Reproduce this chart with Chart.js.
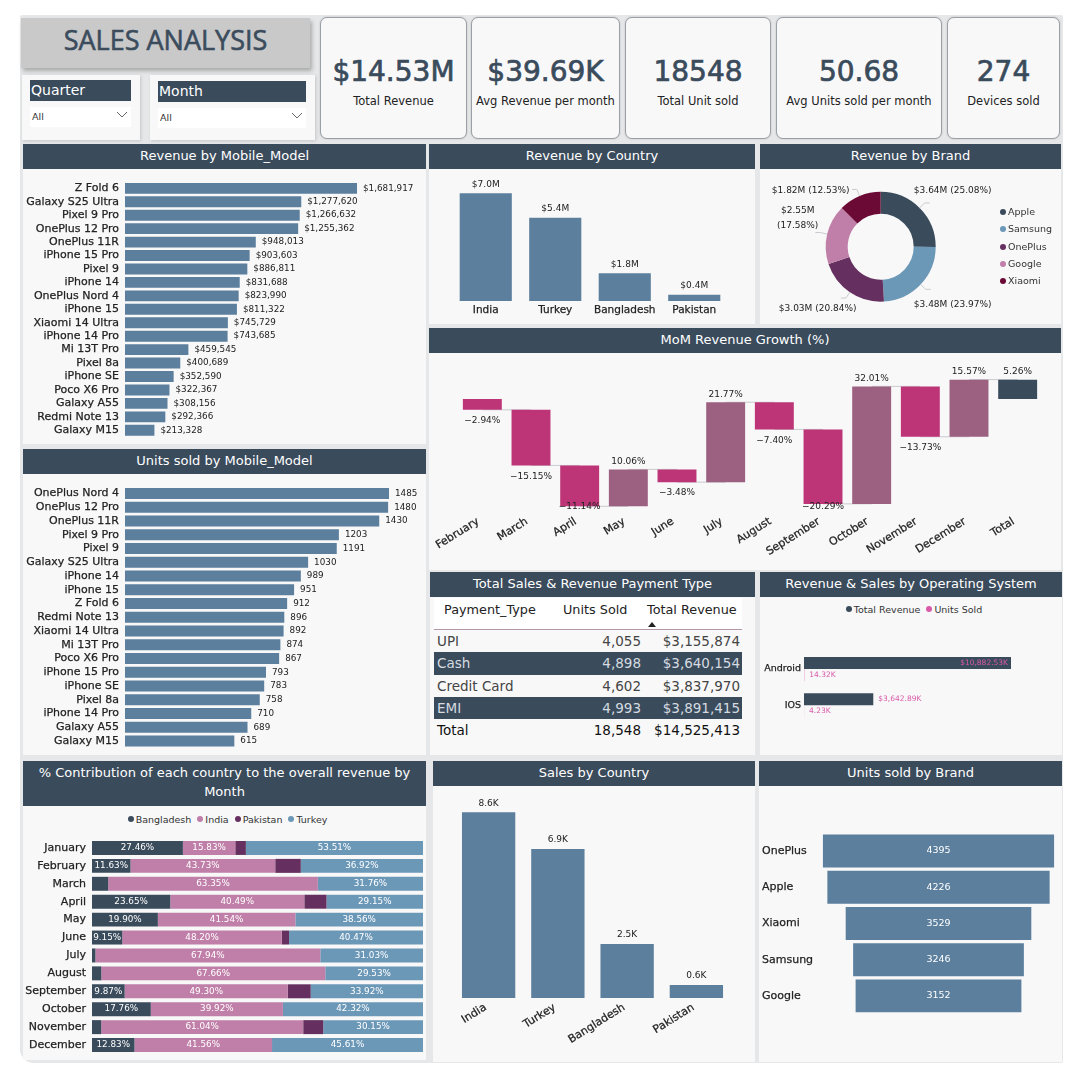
<!DOCTYPE html>
<html>
<head>
<meta charset="utf-8">
<title>Sales Analysis</title>
<script src="https://cdn.jsdelivr.net/npm/chart.js@4/dist/chart.umd.min.js"></script>
<style>
  html, body { margin: 0; padding: 0; background: #fff; }
  body { width: 1080px; height: 1080px; position: relative; overflow: hidden; font-family: "DejaVu Sans", sans-serif; color: #222; }
  .abs { position: absolute; box-sizing: border-box; }
  #board { left: 20px; top: 15px; width: 1043px; height: 1048px; background: #e5e7e9; border-radius: 2px 2px 2px 14px; }
  .body { background: #f8f8f9; }
  .head { background: #3a4b5c; color: #fff; font-size: 13px; text-align: center; display: flex; align-items: center; justify-content: center; line-height: 19px; padding-bottom: 3px; }
  .card { background: #f8f8f9; border: 1px solid #9aa0a6; border-radius: 7px; text-align: center; box-shadow: 0 0 2px #bbb; }
  .card b { display: block; font-weight: 400; font-size: 28px; color: #3a4b5c; margin-top: 37px; line-height: 34px; -webkit-text-stroke: .7px #3a4b5c; }
  .card span { display: block; font-size: 11.5px; margin-top: 5px; color: #222; }
  .legend { display: flex; justify-content: center; align-items: center; font-size: 9.5px; color: #333; white-space: nowrap; }
  .legend i { width: 6px; height: 6px; border-radius: 50%; display: inline-block; margin: 0 2px 0 6px; }
  .tr { font-size: 13.5px; height: 22.3px; line-height: 22.3px; }
  .tc { position: absolute; top: 0; white-space: nowrap; }
  canvas { position: absolute; display: block; }
</style>
</head>
<body>
<div class="abs" id="board"></div>
<div class="abs" style="left:21px;top:18px;width:289px;height:50px;background:#c9c9c9;box-shadow:2px 3px 4px #aaa;color:#3b4c5d;font:27px/44px 'Open Sans',sans-serif;text-align:center;-webkit-text-stroke:.6px #3b4c5d;">SALES ANALYSIS</div>
<script>
// Reference values
const modelNames = ['Z Fold 6', 'Galaxy S25 Ultra', 'Pixel 9 Pro', 'OnePlus 12 Pro', 'OnePlus 11R', 'iPhone 15 Pro', 'Pixel 9', 'iPhone 14', 'OnePlus Nord 4', 'iPhone 15', 'Xiaomi 14 Ultra', 'iPhone 14 Pro', 'Mi 13T Pro', 'Pixel 8a', 'iPhone SE', 'Poco X6 Pro', 'Galaxy A55', 'Redmi Note 13', 'Galaxy M15'];
const modelRevenue = [1681917, 1277620, 1266632, 1255362, 948013, 903603, 886811, 831688, 823990, 811322, 745729, 743685, 459545, 400689, 352590, 322367, 308156, 292366, 213328];

const unitModelNames = ['OnePlus Nord 4', 'OnePlus 12 Pro', 'OnePlus 11R', 'Pixel 9 Pro', 'Pixel 9', 'Galaxy S25 Ultra', 'iPhone 14', 'iPhone 15', 'Z Fold 6', 'Redmi Note 13', 'Xiaomi 14 Ultra', 'Mi 13T Pro', 'Poco X6 Pro', 'iPhone 15 Pro', 'iPhone SE', 'Pixel 8a', 'iPhone 14 Pro', 'Galaxy A55', 'Galaxy M15'];
const modelUnits = [1485, 1480, 1430, 1203, 1191, 1030, 989, 951, 912, 896, 892, 874, 867, 793, 783, 758, 710, 689, 615];

const countries = ['India', 'Turkey', 'Bangladesh', 'Pakistan'];
const countryRevenueM = [7.0, 5.4, 1.8, 0.4];
const countrySalesK = [8.6, 6.9, 2.5, 0.6];

const brands = ['Apple', 'Samsung', 'OnePlus', 'Google', 'Xiaomi'];
const brandShare = [25.08, 23.97, 20.84, 17.58, 12.53];
const brandLabels = [['$3.64M (25.08%)'], ['$3.48M (23.97%)'], ['$3.03M (20.84%)'], ['$2.55M', '(17.58%)'], ['$1.82M (12.53%)']];

const momMonths = ['February', 'March', 'April', 'May', 'June', 'July', 'August', 'September', 'October', 'November', 'December', 'Total'];
const momGrowth = [-2.94, -15.15, -11.14, 10.06, -3.48, 21.77, -7.40, -20.29, 32.01, -13.73, 15.57];
const momTotal = 5.26;

const paymentTypes = ['UPI', 'Cash', 'Credit Card', 'EMI'];
const paymentUnits = ['4,055', '4,898', '4,602', '4,993'];
const paymentRevenue = ['$3,155,874', '$3,640,154', '$3,837,970', '$3,891,415'];

const osNames = ['Android', 'IOS'];
const osRevenueK = [10882.53, 3642.89];
const osUnitsK = [14.32, 4.23];

const months = ['January', 'February', 'March', 'April', 'May', 'June', 'July', 'August', 'September', 'October', 'November', 'December'];
const shareBangladesh = [27.46, 11.63, 4.89, 23.65, 19.90, 9.15, 1.03, 2.81, 9.87, 17.76, 2.77, 12.83];
const shareIndia = [15.83, 43.73, 63.35, 40.49, 41.54, 48.20, 67.94, 67.66, 49.30, 39.92, 61.04, 41.56];
const sharePakistan = [3.20, 7.72, 0, 6.71, 0, 2.18, 0, 0, 6.91, 0, 6.04, 0];
const shareTurkey = [53.51, 36.92, 31.76, 29.15, 38.56, 40.47, 31.03, 29.53, 33.92, 42.32, 30.15, 45.61];

const funnelBrands = ['OnePlus', 'Apple', 'Xiaomi', 'Samsung', 'Google'];
const funnelUnits = [4395, 4226, 3529, 3246, 3152];

const kpiValues = ['$14.53M', '$39.69K', '18548', '50.68', '274'];
const kpiLabels = ['Total Revenue', 'Avg Revenue per month', 'Total Unit sold', 'Avg Units sold per month', 'Devices sold'];

// Colours
const NAVY = '#3a4b5c', STEEL = '#5b7f9d', BLUE = '#6c98b8', PLUM = '#65305f', PINK = '#c07fa8', WINE = '#6c0a36';
const DROP = '#bd3577', RISE = '#9c6080', MAGENTA = '#d85aa8';
const FONT = '"DejaVu Sans", sans-serif';

Chart.defaults.font.family = FONT;
Chart.defaults.color = '#222';
Chart.defaults.animation = false;
Chart.defaults.responsive = false;
Chart.defaults.layout.autoPadding = false;
Chart.defaults.plugins.legend.display = false;
Chart.defaults.plugins.tooltip.enabled = false;

function div(cls, style, html) {
  const d = document.createElement('div');
  d.className = 'abs ' + cls;
  d.style.cssText = style;
  d.innerHTML = html || '';
  document.body.appendChild(d);
  return d;
}

function panel(title, x, y, w, headH, bottom) {
  div('body', `left:${x}px;top:${y + headH}px;width:${w}px;height:${bottom - y - headH}px`);
  div('head', `left:${x}px;top:${y}px;width:${w}px;height:${headH}px`, title);
}

function canvasAt(x, y, w, h) {
  const c = document.createElement('canvas');
  c.width = w;
  c.height = h;
  c.style.cssText = `left:${x}px;top:${y}px;width:${w}px;height:${h}px`;
  document.body.appendChild(c);
  return c.getContext('2d');
}

function legendRow(x, y, w, names, colors) {
  const items = names.map((n, i) => `<i style="background:${colors[i]}"></i>${n}`).join('');
  div('legend', `left:${x}px;top:${y}px;width:${w}px;height:14px`, items);
}

// Draws a text label for every bar, fn returns {text, x, y, align, color} or null
function barLabels(font, fn) {
  return {
    id: 'barLabels',
    afterDatasetsDraw(chart) {
      const g = chart.ctx;
      g.save();
      g.font = font;
      g.textBaseline = 'middle';
      chart.data.datasets.forEach((ds, di) => {
        chart.getDatasetMeta(di).data.forEach((bar, i) => {
          const l = fn(bar, ds.data[i], di, i, chart);
          if (!l) return;
          g.textAlign = l.align || 'center';
          g.fillStyle = l.color || '#222';
          g.fillText(l.text, l.x, l.y);
        });
      });
      g.restore();
    },
  };
}

const hiddenGrid = { display: false, drawTicks: false };
const noBorder = { display: false };

function tickStyle(size, extra) {
  return Object.assign({
    autoSkip: false,
    padding: 6,
    color: '#222',
    font: { size },
    textStrokeColor: '#222',
    textStrokeWidth: 0.25,
  }, extra || {});
}

function categoryY(width, size, tickExtra, extra) {
  return Object.assign({
    type: 'category',
    grid: hiddenGrid,
    border: noBorder,
    ticks: tickStyle(size, tickExtra),
    afterFit(s) { s.width = width; },
  }, extra || {});
}

function valueHidden(min, max) {
  return { display: false, min, max };
}

function categoryX(height, size, rotation, tickExtra) {
  return {
    type: 'category',
    grid: hiddenGrid,
    border: noBorder,
    ticks: tickStyle(size, Object.assign({ padding: 3, minRotation: rotation, maxRotation: rotation }, tickExtra || {})),
    afterFit(s) { s.height = height; },
  };
}

// --- KPI cards and slicers ---
[[320, 147], [471, 149], [625, 146], [776, 166], [947, 113]].forEach(([x, w], i) => {
  div('card', `left:${x}px;top:17px;width:${w}px;height:122px`, `<b>${kpiValues[i]}</b><span>${kpiLabels[i]}</span>`);
});

const chevron = '<svg width="12" height="7" viewBox="0 0 12 7" style="position:absolute;right:3px;top:4px"><path d="M1 1l5 5 5-5" fill="none" stroke="#666" stroke-width="1"/></svg>';
function slicer(label, x, w, headX, headW, headY) {
  div('', `left:${x}px;top:75px;width:${w}px;height:65px;background:#f8f8f9;box-shadow:1px 1px 3px #c4c6c8`);
  div('', `left:${headX}px;top:${headY}px;width:${headW}px;height:21px;background:${NAVY};color:#fff;font:14px/21px 'DejaVu Sans',sans-serif;padding-left:1px`, label);
  div('', `left:${headX}px;top:${headY + 27}px;width:${headW}px;height:20px;background:#fff;font-size:9.5px;line-height:20px;padding-left:2px;color:#333`, 'All' + chevron);
}
slicer('Quarter', 22, 118, 30, 101, 80);
slicer('Month', 150, 165, 158, 148, 81);

// --- Panels ---
panel('Revenue by Mobile_Model', 23, 144, 403, 25, 444);
panel('Units sold by Mobile_Model', 23, 449, 403, 25, 755);
panel('% Contribution of each country to the overall revenue by<br>Month', 23, 761, 403, 45, 1060);
panel('Revenue by Country', 429, 144, 326, 25, 324);
panel('Revenue by Brand', 760, 144, 301, 25, 324);
panel('MoM Revenue Growth (%)', 429, 328, 632, 25, 570);
panel('Total Sales &amp; Revenue Payment Type', 430, 572, 325, 25, 755);
panel('Revenue &amp; Sales by Operating System', 760, 572, 302, 25, 755);
panel('Sales by Country', 433, 761, 322, 25, 1062);
panel('Units sold by Brand', 759, 761, 303, 25, 1062);

// --- Revenue by model ---
new Chart(canvasAt(23, 169, 403, 295), {
  type: 'bar',
  data: { labels: modelNames, datasets: [{ data: modelRevenue, backgroundColor: STEEL, barPercentage: 0.81, categoryPercentage: 1 }] },
  options: {
    indexAxis: 'y',
    layout: { padding: { top: 11, bottom: 27 } },
    scales: { y: categoryY(102, 11), x: valueHidden(0, 2182000) },
  },
  plugins: [barLabels(`8.8px ${FONT}`, (b, v) => ({ text: '$' + v.toLocaleString('en-US'), x: b.x + 6, y: b.y, align: 'left' }))],
});

// --- Units by model ---
new Chart(canvasAt(23, 474, 403, 301), {
  type: 'bar',
  data: { labels: unitModelNames, datasets: [{ data: modelUnits, backgroundColor: STEEL, barPercentage: 0.8, categoryPercentage: 1 }] },
  options: {
    indexAxis: 'y',
    layout: { padding: { top: 11, bottom: 27 } },
    scales: { y: categoryY(102, 11), x: valueHidden(0, 1693) },
  },
  plugins: [barLabels(`8.8px ${FONT}`, (b, v) => ({ text: String(v), x: b.x + 6, y: b.y, align: 'left' }))],
});

// --- Revenue by country ---
new Chart(canvasAt(429, 169, 326, 155), {
  type: 'bar',
  data: { labels: countries, datasets: [{ data: countryRevenueM, backgroundColor: STEEL, barPercentage: 1, categoryPercentage: 0.75 }] },
  options: {
    layout: { padding: { top: 6, left: 22, right: 26 } },
    scales: { x: categoryX(23, 10.5, 0), y: valueHidden(0, 8.18) },
  },
  plugins: [barLabels(`9px ${FONT}`, (b, v) => ({ text: '$' + v.toFixed(1) + 'M', x: b.x, y: b.y - 9 }))],
});

// --- Revenue by brand ---
const brandOffsets = [[72, -56], [72, 58], [-63, 62], [-83, -36], [-70, -56]];
const brandLeaders = {
  id: 'brandLeaders',
  afterDatasetsDraw(chart) {
    const g = chart.ctx;
    g.save();
    g.font = `9px ${FONT}`;
    g.textBaseline = 'middle';
    g.textAlign = 'center';
    chart.getDatasetMeta(0).data.forEach((arc, i) => {
      const mid = (arc.startAngle + arc.endAngle) / 2;
      const [dx, dy] = brandOffsets[i];
      const px = arc.x + Math.cos(mid) * arc.outerRadius;
      const py = arc.y + Math.sin(mid) * arc.outerRadius;
      const ex = arc.x + Math.cos(mid) * (arc.outerRadius + 7);
      const ey = arc.y + Math.sin(mid) * (arc.outerRadius + 7);
      g.strokeStyle = '#c9cbce';
      g.lineWidth = 1;
      g.beginPath();
      g.moveTo(px, py);
      g.lineTo(ex, ey);
      g.lineTo(ex + (dx > 0 ? 5 : -5), ey);
      g.stroke();
      g.fillStyle = '#222';
      brandLabels[i].forEach((t, k) => g.fillText(t, arc.x + dx, arc.y + dy + k * 15));
    });
    g.restore();
  },
};
new Chart(canvasAt(760, 169, 301, 155), {
  type: 'doughnut',
  data: { labels: brands, datasets: [{ data: brandShare, backgroundColor: [NAVY, BLUE, PLUM, PINK, WINE], borderWidth: 0 }] },
  options: {
    cutout: '60%',
    layout: { padding: { left: 65.7, right: 125.3, top: 22.7, bottom: 22.3 } },
  },
  plugins: [brandLeaders],
});
brands.forEach((name, i) => {
  const color = [NAVY, BLUE, PLUM, PINK, WINE][i];
  div('', `left:1000px;top:${205 + i * 17.3}px;height:14px;font-size:9.5px;line-height:14px;color:#333;white-space:nowrap`,
    `<i style="display:inline-block;width:6px;height:6px;border-radius:50%;background:${color};margin-right:2px"></i>${name}`);
});

// --- MoM waterfall ---
const momBars = [];
let running = 0;
momGrowth.forEach((g) => {
  momBars.push([running, running + g]);
  running += g;
});
momBars.push([0, momTotal]);
const momValues = momGrowth.concat([momTotal]);
const momColors = momValues.map((v, i) => (i === momValues.length - 1 ? NAVY : v < 0 ? DROP : RISE));

const momConnectors = {
  id: 'momConnectors',
  beforeDatasetsDraw(chart) {
    const g = chart.ctx;
    const bars = chart.getDatasetMeta(0).data;
    const y = chart.scales.y;
    g.save();
    g.strokeStyle = '#c9cbce';
    g.lineWidth = 1;
    bars.forEach((b, i) => {
      if (i === bars.length - 1) return;
      const level = y.getPixelForValue(momBars[i][1]);
      g.beginPath();
      g.moveTo(b.x, level);
      g.lineTo(bars[i + 1].x, level);
      g.stroke();
    });
    g.restore();
  },
};
new Chart(canvasAt(429, 353, 632, 217), {
  type: 'bar',
  data: { labels: momMonths, datasets: [{ data: momBars, backgroundColor: momColors, barPercentage: 1, categoryPercentage: 0.8 }] },
  options: {
    layout: { padding: { top: 7, left: 29, right: 19 } },
    scales: { x: categoryX(55, 11, 32, { padding: 0, labelOffset: -4 }), y: valueHidden(-31.6, 10.63) },
  },
  plugins: [momConnectors, barLabels(`9px ${FONT}`, (b, v, di, i, chart) => {
    const val = momValues[i];
    const top = Math.min(b.y, b.base);
    const bottom = Math.max(b.y, b.base);
    const text = (val < 0 ? '−' + Math.abs(val).toFixed(2) : val.toFixed(2)) + '%';
    if (val >= 0) return { text, x: b.x, y: top - 8 };
    return { text, x: b.x, y: Math.min(bottom + 11, chart.chartArea.bottom - 8) };
  })],
});

// --- Payment table ---
function tableRow(y, name, units, rev, opts) {
  const o = opts || {};
  const row = div('tr', `left:434px;top:${y}px;width:308px;${o.dark ? `background:${NAVY};color:#d5dbe0;` : ''}${o.color ? `color:${o.color};` : ''}`);
  row.innerHTML = `<span class="tc" style="left:3px">${name}</span><span class="tc" style="right:101px">${units}</span><span class="tc" style="right:2px">${rev}</span>`;
}
div('', 'left:434px;top:598px;width:308px;height:32px;background:#fff;border-bottom:1px solid #b596a8');
div('', 'left:444px;top:602px;font-size:12.8px;white-space:nowrap', 'Payment_Type');
div('', 'left:563px;top:602px;font-size:12.8px;white-space:nowrap', 'Units Sold');
div('', 'left:647px;top:602px;font-size:12.8px;white-space:nowrap', 'Total Revenue');
div('', 'left:648px;top:622px;width:0;height:0;border:4px solid transparent;border-top:0;border-bottom:5px solid #222');
paymentTypes.forEach((name, i) => {
  tableRow(630 + i * 22.3, name, paymentUnits[i], paymentRevenue[i], { dark: i % 2 === 1, color: i % 2 === 1 ? null : '#444' });
});
tableRow(630 + 4 * 22.3, 'Total', '18,548', '$14,525,413', { color: '#111' });

// --- OS chart ---
legendRow(760, 602, 302, ['Total Revenue', 'Units Sold'], [NAVY, MAGENTA]);
new Chart(canvasAt(760, 597, 302, 158), {
  type: 'bar',
  data: {
    labels: osNames,
    datasets: [
      { data: osRevenueK, backgroundColor: NAVY, barPercentage: 1, categoryPercentage: 0.66 },
      { data: osUnitsK, backgroundColor: MAGENTA, barPercentage: 1, categoryPercentage: 0.66 },
    ],
  },
  options: {
    indexAxis: 'y',
    layout: { padding: { top: 53.75, bottom: 31.5 } },
    scales: { y: categoryY(44, 9.5, { padding: 3 }), x: valueHidden(0, 13563) },
  },
  plugins: [barLabels(`7.5px ${FONT}`, (b, v, di, i) => {
    if (di === 1) return { text: v.toFixed(2) + 'K', x: b.x + 5, y: b.y, align: 'left', color: MAGENTA };
    const text = '$' + v.toLocaleString('en-US', { minimumFractionDigits: 2 }) + 'K';
    if (i === 0) return { text, x: b.x - 3, y: b.y, align: 'right', color: MAGENTA };
    return { text, x: b.x + 5, y: b.y, align: 'left', color: MAGENTA };
  })],
});

// --- Stacked share by month ---
legendRow(23, 812, 403, ['Bangladesh', 'India', 'Pakistan', 'Turkey'], [NAVY, PINK, PLUM, BLUE]);
const stackSeries = [
  ['Bangladesh', shareBangladesh, NAVY],
  ['India', shareIndia, PINK],
  ['Pakistan', sharePakistan, PLUM],
  ['Turkey', shareTurkey, BLUE],
];
new Chart(canvasAt(23, 806, 403, 274), {
  type: 'bar',
  data: {
    labels: months,
    datasets: stackSeries.map(([label, data, color]) => ({ label, data, backgroundColor: color, barPercentage: 0.78, categoryPercentage: 1 })),
  },
  options: {
    indexAxis: 'y',
    layout: { padding: { top: 33, bottom: 26, right: 3 } },
    scales: {
      y: categoryY(69, 11, null, { stacked: true }),
      x: Object.assign(valueHidden(0, 100), { stacked: true }),
    },
  },
  plugins: [barLabels(`8.8px ${FONT}`, (b, v) => (v < 9 ? null : { text: v.toFixed(2) + '%', x: (b.x + b.base) / 2, y: b.y, color: '#fff' }))],
});

// --- Sales by country ---
new Chart(canvasAt(433, 786, 322, 276), {
  type: 'bar',
  data: { labels: countries, datasets: [{ data: countrySalesK, backgroundColor: STEEL, barPercentage: 1, categoryPercentage: 0.77 }] },
  options: {
    layout: { padding: { top: 6, left: 21, right: 24 } },
    scales: { x: categoryX(64, 11, 32, { labelOffset: -3 }), y: valueHidden(0, 9.54) },
  },
  plugins: [barLabels(`9px ${FONT}`, (b, v) => ({ text: v.toFixed(1) + 'K', x: b.x, y: b.y - 9 }))],
});

// --- Units by brand (funnel) ---
new Chart(canvasAt(759, 786, 303, 276), {
  type: 'bar',
  data: { labels: funnelBrands, datasets: [{ data: funnelUnits.map((v) => [-v / 2, v / 2]), backgroundColor: STEEL, barPercentage: 1, categoryPercentage: 0.91 }] },
  options: {
    indexAxis: 'y',
    layout: { padding: { top: 46.9, bottom: 48, left: 3 } },
    scales: {
      y: categoryY(53, 11, { crossAlign: 'far', padding: 0 }),
      x: valueHidden(-2348, 2348),
    },
  },
  plugins: [barLabels(`9.5px ${FONT}`, (b, v, di, i) => ({ text: String(funnelUnits[i]), x: (b.x + b.base) / 2, y: b.y, color: '#fff' }))],
});
</script>
</body>
</html>
